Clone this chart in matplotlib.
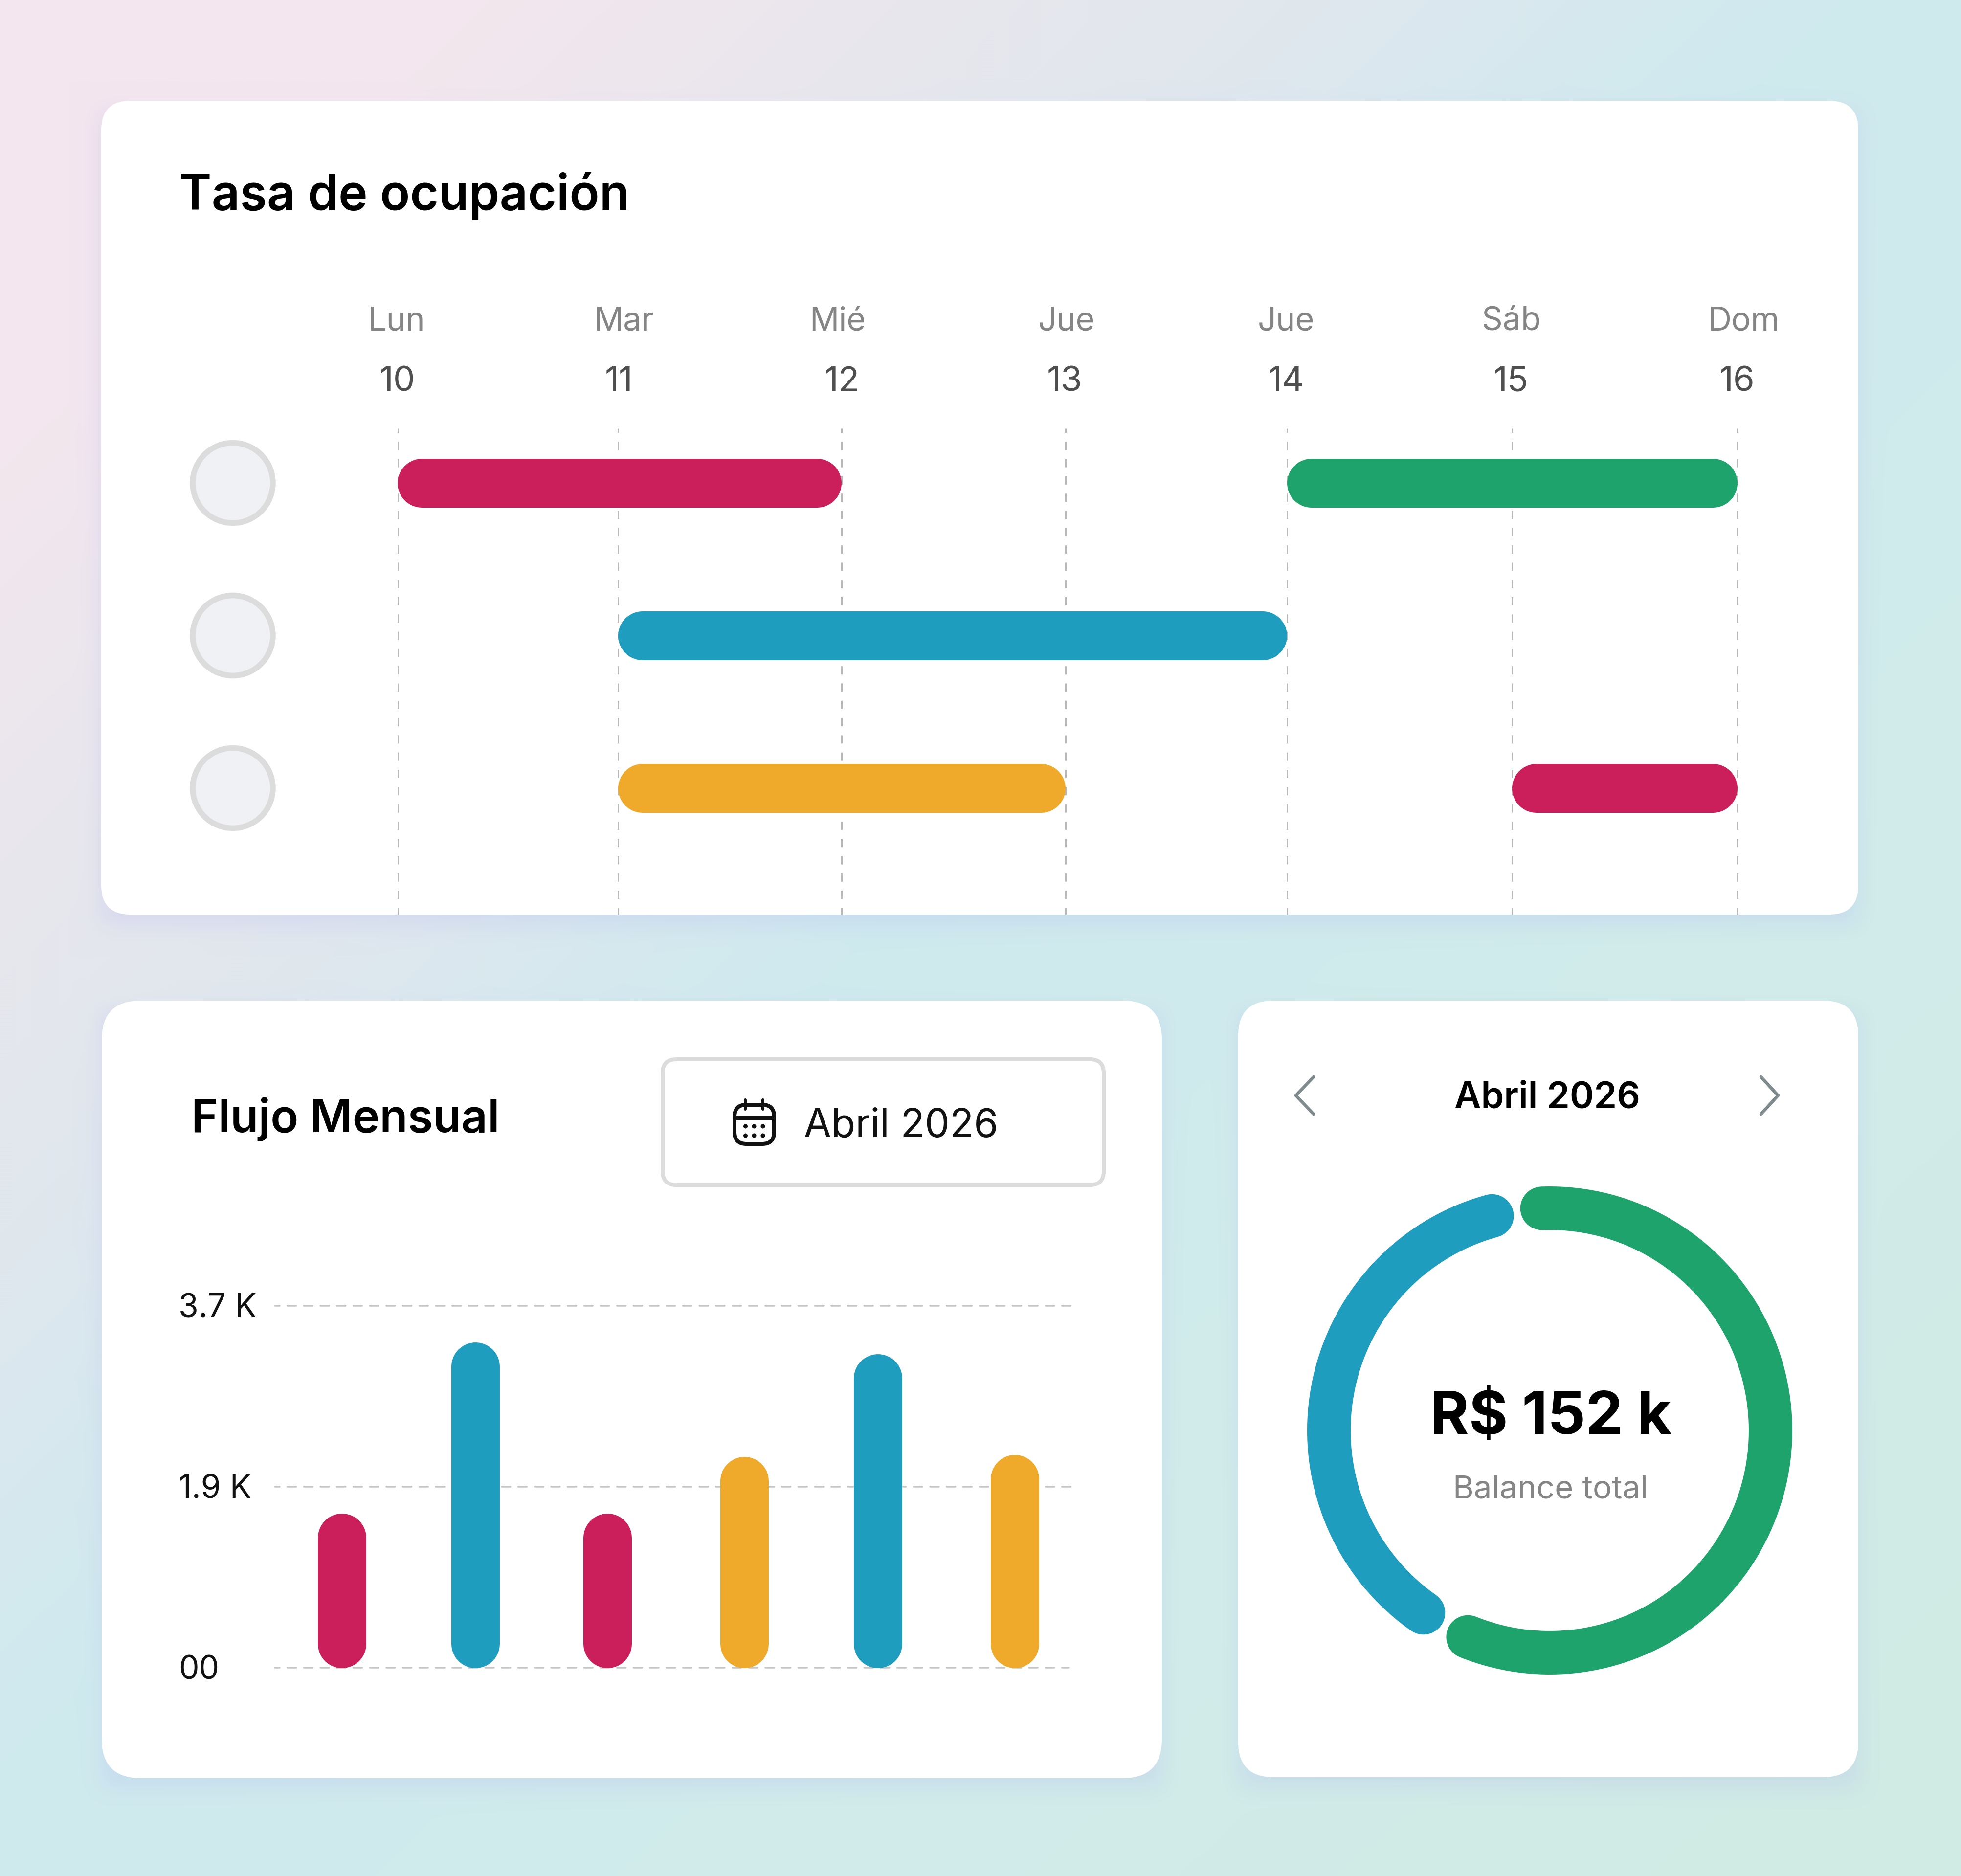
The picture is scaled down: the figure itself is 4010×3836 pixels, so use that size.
import numpy as np
import matplotlib
matplotlib.use("Agg")
import matplotlib.pyplot as plt
from matplotlib.patches import FancyBboxPatch, Circle

# ---- data -------------------------------------------------------------
DAY_NAMES = ["Lun", "Mar", "Mié", "Jue", "Jue", "Sáb", "Dom"]
DAY_NUMBERS = [10, 11, 12, 13, 14, 15, 16]
BOOK_ROWS = [0, 0, 1, 2, 2]
BOOK_START = [10, 14, 11, 11, 15]
BOOK_END = [12, 16, 14, 13, 16]
BOOK_KIND = ["crimson", "green", "blue", "amber", "crimson"]
FLOW_K = [1.58, 3.33, 1.58, 2.16, 3.21, 2.18]
FLOW_KIND = ["crimson", "blue", "crimson", "amber", "blue", "amber"]
FLOW_TICKS = [3.7, 1.85, 0.0]
FLOW_TICK_LABELS = ["3.7 K", "1.9 K", "00"]
BALANCE_K = [92.8, 59.2]
BALANCE_KIND = ["green", "blue"]

PALETTE = {"crimson": "#CA1F5B", "blue": "#1E9DBF", "green": "#1FA36D", "amber": "#EFAA2B"}

W, H = 4010, 3836
PT = 72 / 100  # one output pixel in points
plt.rcParams["lines.scale_dashes"] = False
plt.rcParams["font.family"] = ["Inter", "DejaVu Sans"]

fig = plt.figure(figsize=(W / 100, H / 100), dpi=100)


def box(left, top, right, bottom, **kw):
    return fig.add_axes([left / W, 1 - bottom / H, (right - left) / W, (bottom - top) / H], **kw)


# ---- backdrop: diagonal gradient plus soft card shadows -------------------
CARDS = [(207, 206, 3800, 1870, 60), (208, 2046, 2376, 3636, 80), (2532, 2046, 3800, 3634, 72)]
S = 4
gh, gw = H // S, W // S
yy, xx = np.mgrid[0:gh, 0:gw]
t = (xx / gw + yy / gh) / 2
stops = np.array([0.0, 0.125, 0.25, 0.35, 0.42, 0.47, 0.72, 1.0])
cols = np.array([[244, 230, 238], [243, 230, 238], [231, 231, 237], [222, 231, 238],
                 [212, 233, 238], [207, 234, 238], [209, 236, 234], [208, 235, 227]], float)
img = np.dstack([np.interp(t, stops, cols[:, i]) for i in range(3)])


def soften(a, r=5, passes=3):
    k = np.ones(2 * r + 1) / (2 * r + 1)
    for _ in range(passes):
        a = np.apply_along_axis(lambda v: np.convolve(v, k, mode="same"), 0, a)
        a = np.apply_along_axis(lambda v: np.convolve(v, k, mode="same"), 1, a)
    return a


mask = np.zeros((gh, gw))
for l, tp, r, b, _ in CARDS:
    mask[(tp + 22) // S:(b + 22) // S, l // S:r // S] = 1
shade = soften(mask)[..., None] * 0.2
img = img * (1 - shade) + np.array([166, 167, 246.0]) * shade

back = box(0, 0, W, H)
back.imshow(img / 255, extent=(0, W, H, 0), interpolation="bilinear", aspect="auto")
back.set_axis_off()

# ---- pixel-space layer for cards, icons and captions ----------------------
ui = box(0, 0, W, H, zorder=1)
ui.set_xlim(0, W)
ui.set_ylim(H, 0)
ui.set_axis_off()


def rounded(l, t, r, b, rad, **kw):
    ui.add_patch(FancyBboxPatch((l, t), r - l, b - t, boxstyle=f"round,pad=0,rounding_size={rad}", **kw))


for l, tp, r, b, rad in CARDS:
    rounded(l, tp, r, b, rad, fc="white", ec="none")


def label(x, y, s, size, color="#111111", weight="normal", ha="left"):
    ui.text(x, y, s, fontsize=size, color=color, fontweight=weight, ha=ha, va="baseline")


def pin_axis(setter, limiter, values, pixels, low, high):
    """Map axis values onto output pixels piecewise, extending linearly past the ends."""
    v = np.asarray(values, float)
    p = np.asarray(pixels, float)
    ve = np.r_[v[0] - 100, v, v[-1] + 100]
    pe = np.r_[p[0] - 100 * (p[1] - p[0]) / (v[1] - v[0]), p, p[-1] + 100 * (p[-1] - p[-2]) / (v[-1] - v[-2])]
    fwd = lambda a: np.interp(a, ve, pe)
    inv = lambda a: np.interp(a, pe, ve)
    setter("function", functions=(fwd, inv))
    limiter(float(inv(low)), float(inv(high)))


# ---- occupancy timeline ----------------------------------------------------
label(366, 429, "Tasa de ocupación", 72.6, "#000000", 600)

day_px = [814, 1263.5, 1721, 2179, 2632, 3092, 3553]
name_px = [810, 1276, 1713, 2181, 2630, 3090, 3565]
num_px = [812, 1266, 1722, 2177, 2630, 3090, 3552]
gantt = box(day_px[0], 876, day_px[-1], 1870, zorder=2)
pin_axis(gantt.set_xscale, gantt.set_xlim, DAY_NUMBERS, day_px, day_px[0], day_px[-1])
gantt.set_ylim((1870 - 987.5) / 312, (876 - 987.5) / 312)
gantt.set_axis_off()
px_per_day = (day_px[-1] - day_px[0]) / (DAY_NUMBERS[-1] - DAY_NUMBERS[0])

for d, name, nx, ax_ in zip(DAY_NUMBERS, DAY_NAMES, num_px, name_px):
    label(ax_, 676, name, 48, "#858585", ha="center")
    label(nx, 800, str(d), 51, "#4F4F4F", ha="center")
    gantt.plot([d, d], [gantt.get_ylim()[1], gantt.get_ylim()[0]], color="#B8B8B8", lw=3 * PT,
               ls=(8.5 * PT, (17 * PT, 18.3 * PT)), dash_capstyle="butt", clip_on=False, zorder=1)

for row in sorted(set(BOOK_ROWS)):
    ui.add_patch(Circle((476, 987.5 + 312 * row), 82, fc="#F0F1F5", ec="#DCDCDC", lw=11.5 * PT))

BAR_H = 100
for row, a, b, kind in zip(BOOK_ROWS, BOOK_START, BOOK_END, BOOK_KIND):
    inset = (BAR_H / 2) / px_per_day
    gantt.plot([a + inset, b - inset], [row, row], color=PALETTE[kind], lw=BAR_H * PT,
               solid_capstyle="round", clip_on=False, zorder=3)

# ---- monthly flow ----------------------------------------------------------
label(391, 2315, "Flujo Mensual", 67.6, "#000000", 600)
rounded(1355, 2166, 2257, 2423, 28, fc="white", ec="#DCDCDC", lw=8 * PT)
label(1644, 2325, "Abril 2026", 58.2, "#111111")

# calendar glyph
rounded(1502, 2259, 1583, 2339, 24, fc="none", ec="#111111", lw=8 * PT)
ui.plot([1502, 1583], [2286, 2286], color="#111111", lw=8 * PT, solid_capstyle="butt")
for x in (1524.5, 1560):
    ui.plot([x, x], [2249, 2268], color="#111111", lw=6 * PT, solid_capstyle="round")
for y in (2303, 2322):
    for x in (1524.5, 1542, 1560):
        ui.add_patch(Circle((x, y), 4.5, fc="#111111", ec="none"))

slot_px = [698.5, 972, 1242, 1522, 1795, 2075]
flow = box(562, 2670, 2195, 3410, zorder=2)
pin_axis(flow.set_xscale, flow.set_xlim, range(len(FLOW_K)), slot_px, 562, 2195)
flow.set_ylim(0, 3.7)
flow.set_axis_off()
px_per_k = (3410 - 2670) / 3.7

grid_right = [2195, 2190, 2185]
for v, tick, right in zip(FLOW_TICKS, FLOW_TICK_LABELS, grid_right):
    x_end = float(flow.transData.inverted().transform((right, 0))[0])
    x_start = float(flow.transData.inverted().transform((562, 0))[0])
    flow.plot([x_start, x_end], [v, v], color="#C6C6C6", lw=3.5 * PT, ls=(8 * PT, (18 * PT, 15.7 * PT)),
              dash_capstyle="round", clip_on=False, zorder=1)
    y_px = 3410 - v * px_per_k
    label(365, y_px + 24, tick, 47.5, "#111111")

BAR_W = 99
for i, (v, kind) in enumerate(zip(FLOW_K, FLOW_KIND)):
    inset = (BAR_W / 2) / px_per_k
    flow.plot([i, i], [inset, v - inset], color=PALETTE[kind], lw=BAR_W * PT,
              solid_capstyle="round", clip_on=False, zorder=3)

# ---- balance ring ----------------------------------------------------------
label(3164, 2266, "Abril 2026", 54, "#000000", 600, ha="center")
for xs in ([2686, 2650, 2686], [3601, 3636, 3601]):
    ui.plot(xs, [2202, 2240, 2278], color="#7F8C8D", lw=6.5 * PT, solid_capstyle="round", solid_joinstyle="round")

RING_CX, RING_CY, REACH = 3169, 2925, 620
REACH_X = REACH * 451.5 / 454.5
ring = box(RING_CX - REACH_X, RING_CY - REACH, RING_CX + REACH_X, RING_CY + REACH, projection="polar", zorder=2)
ring.set_aspect("auto")
ring.set_theta_zero_location("N")
ring.set_theta_direction(-1)
ring.set_rlim(0, REACH)
ring.set_axis_off()
GAP_DEG = 13.15
usable = 360 - 2 * GAP_DEG
start = -2.0
for v, kind in zip(BALANCE_K, BALANCE_KIND):
    sweep = usable * v / sum(BALANCE_K)
    th = np.radians(np.linspace(start, start + sweep, 240))
    ring.plot(th, np.full_like(th, 454.5), color=PALETTE[kind], lw=89 * PT, solid_capstyle="round", clip_on=False)
    start += sweep + GAP_DEG

label(3171, 2932, "R$ 152 k", 87.5, "#000000", 700, ha="center")
label(3171, 3063, "Balance total", 47, "#858585", ha="center")

fig.savefig("out.png", dpi=100)
